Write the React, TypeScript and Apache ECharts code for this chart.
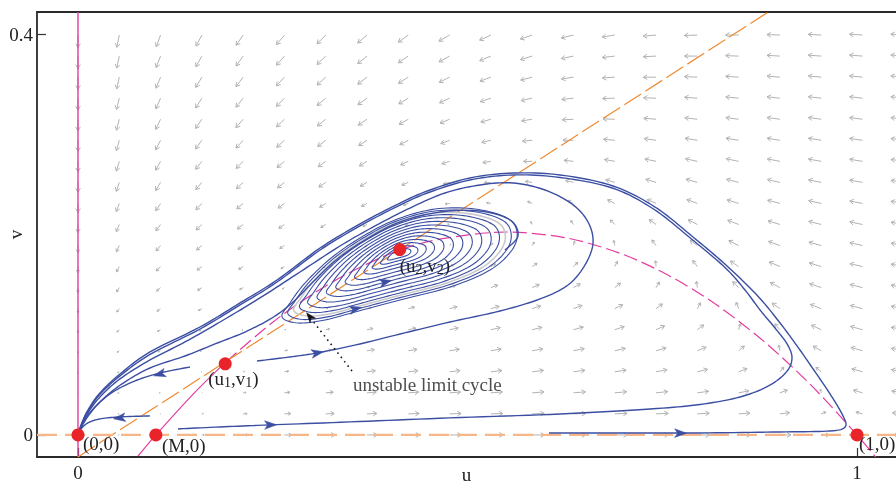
import React, { useEffect, useRef } from "react";
import * as echarts from "echarts";

// ---------- axes ----------
const U_MIN = -0.0526;
const U_MAX = 1.05;
const V_MIN = -0.022;
const V_MAX = 0.422;
const X_TICKS = [0, 1];
const Y_TICKS = [0, 0.4];

// ---------- model read from the nullclines ----------
const ALLEE_M = 0.1; // (M,0)
const V_NULL_SLOPE = 0.505; // slope of the orange nullcline
const V_NULL_U0 = 0.045; // where the orange nullcline meets v = 0
const V_RATE = 0.6;

// vector-field sample grid
const FIELD_U_STEP = 0.053;
const FIELD_V_STEP = 0.021;
const FIELD_COLS = 21;
const FIELD_ROWS = 20;

// ---------- nullclines ----------
const uNullSolidU = [0.077, 0.1, 0.15, 0.19];
const uNullSolidV = [-0.0212, 0, 0.0425, 0.0729];
const uNullDashU = [0.19, 0.25, 0.3, 0.35, 0.413, 0.47, 0.55, 0.63, 0.7, 0.76, 0.82, 0.88, 0.94, 1.0, 1.024];
const uNullDashV = [0.0729, 0.1125, 0.14, 0.1625, 0.1846, 0.1961, 0.2025, 0.1961, 0.18, 0.1584, 0.1296, 0.0936, 0.0504, 0, -0.0222];
const vNullLine = [[0, -0.0219], [0.8858, 0.4219]];

// ---------- equilibria ----------
const eqU = [0, ALLEE_M, 0.189, 0.413, 1];
const eqV = [0, 0, 0.071, 0.185, 0];
const eqLabels = ["(0,0)", "(M,0)", "{m|(u}{s|1}{m|,v}{s|1}{m|)}", "{m|(u}{s|2}{m|,v}{s|2}{m|)}", "(1,0)"];

// ---------- trajectories ----------
const trajFromOneZero = [
  [0.6046, 0.002], [0.6958, 0.002], [0.7985, 0.002], [0.9012, 0.003], [0.9653, 0.004], [0.9846, 0.008],
  [0.982, 0.019], [0.9645, 0.0419], [0.9445, 0.0648], [0.923, 0.0888], [0.9002, 0.1127], [0.8725, 0.1387],
  [0.8331, 0.1686], [0.7895, 0.1975], [0.7407, 0.2274], [0.6868, 0.2484], [0.6187, 0.2594], [0.5584, 0.2613],
  [0.5032, 0.2564], [0.4519, 0.2444], [0.4134, 0.2314], [0.362, 0.2105], [0.3107, 0.1865], [0.2555, 0.1546],
  [0.208, 0.1317], [0.1566, 0.1077], [0.0924, 0.0828], [0.0539, 0.0608], [0.0282, 0.0419], [0.0128, 0.0249],
  [0.0039, 0.01], [0, 0],
];
const trajBottomTurn = [
  [0.1284, 0.006], [0.1823, 0.008], [0.2465, 0.01], [0.3492, 0.013], [0.4775, 0.017], [0.6187, 0.0209],
  [0.7343, 0.0259], [0.7985, 0.0304], [0.8498, 0.0379], [0.8863, 0.0489], [0.9094, 0.0629], [0.9165, 0.0768],
  [0.9102, 0.0908], [0.8947, 0.1067], [0.8755, 0.1247], [0.8562, 0.1446], [0.8311, 0.1666], [0.7875, 0.1955],
  [0.7387, 0.2254], [0.6858, 0.2464], [0.6187, 0.2569], [0.5584, 0.2594], [0.5032, 0.2544], [0.4519, 0.2424],
  [0.4134, 0.2294], [0.362, 0.2085], [0.3107, 0.1845], [0.2555, 0.1526], [0.208, 0.1297], [0.1566, 0.1057],
  [0.0924, 0.0803], [0.0539, 0.0589], [0.0282, 0.0405], [0.0128, 0.0235], [0.0039, 0.0093], [0, 0],
];
const trajSaddleRight = [
  [0.2298, 0.0738], [0.2721, 0.0778], [0.3068, 0.0818], [0.362, 0.0908], [0.4134, 0.1007], [0.4775, 0.1127],
  [0.5417, 0.1237], [0.5931, 0.1357], [0.629, 0.1496], [0.6508, 0.1696], [0.6611, 0.1915], [0.6547, 0.2125],
  [0.6341, 0.2304], [0.5995, 0.2444], [0.5584, 0.2514], [0.516, 0.2494], [0.4711, 0.2414], [0.4262, 0.2264],
  [0.3813, 0.2085], [0.3363, 0.1885], [0.285, 0.1626], [0.2336, 0.1367], [0.1823, 0.1127], [0.1374, 0.0928],
  [0.0924, 0.0748], [0.0539, 0.0559], [0.0282, 0.0379], [0.0128, 0.0219], [0.0039, 0.008], [0, 0],
];
const trajSpiralExit = [
  [0.5481, 0.1845], [0.5648, 0.1985], [0.5546, 0.2145], [0.516, 0.2234], [0.4647, 0.2224], [0.4134, 0.2125],
  [0.3684, 0.1945], [0.3299, 0.1736], [0.2978, 0.1496], [0.2747, 0.1317], [0.249, 0.1167], [0.2144, 0.1027],
  [0.1759, 0.0908], [0.1374, 0.0788], [0.0924, 0.0668], [0.0565, 0.0509], [0.0308, 0.0349], [0.0141, 0.02],
  [0.0039, 0.007], [0, 0],
];
const trajSaddleLeft = [
  [0.1438, 0.0678], [0.1053, 0.0618], [0.0732, 0.0539], [0.0449, 0.0429], [0.0244, 0.0299], [0.0103, 0.017],
  [0.0026, 0.006], [0, 0],
];
const trajBottomLeft = [
  [0.0924, 0.019], [0.0539, 0.018], [0.0282, 0.016], [0.0128, 0.012], [0.0039, 0.006], [0, 0],
];
const trajectories = [trajFromOneZero, trajBottomTurn, trajSaddleRight, trajSpiralExit, trajSaddleLeft, trajBottomLeft];

// spiral loops around (u2,v2): outline of the outermost loop, and loop sizes
const loopShapeU = [0.2619, 0.2824, 0.3171, 0.3556, 0.4134, 0.4775, 0.5289, 0.5571, 0.5635, 0.5507, 0.5096, 0.4583, 0.4069, 0.362, 0.3235, 0.2914, 0.2721];
const loopShapeV = [0.1177, 0.1117, 0.1147, 0.1227, 0.1347, 0.1476, 0.1646, 0.1845, 0.2025, 0.2165, 0.2254, 0.2254, 0.2145, 0.1965, 0.1756, 0.1516, 0.1317];
const loopCenter = [0.4121, 0.1815];
const spiralLoopScales = [1.0, 0.95, 0.85, 0.78, 0.7, 0.62, 0.54, 0.46, 0.38, 0.3, 0.23, 0.16, 0.1];
const limitCycleScale = [0.9];

// direction arrows on trajectories: [u, v, uAhead, vAhead]
const flowArrows = [
  [0.1053, 0.0608, 0.0924, 0.0579],
  [0.0539, 0.017, 0.0347, 0.015],
  [0.2465, 0.01, 0.2721, 0.0105],
  [0.7728, 0.0018, 0.7985, 0.0018],
  [0.3068, 0.0818, 0.3363, 0.0858],
  [0.3556, 0.1257, 0.3813, 0.1302],
  [0.3941, 0.1526, 0.4134, 0.1561],
];
// annotation pointer
const pointerLine = [[0.3517, 0.0638], [0.3004, 0.1147]];
const pointerHead = [[0.2978, 0.1177, 0.2927, 0.1227]];

const FONT = "'Liberation Serif', 'DejaVu Serif', serif";
const BLUE = "#3b4ea2";
const MAGENTA = "#e23c9e";
const ORANGE = "#f08a30";

function field(u: number, v: number): [number, number] {
  const f = u * (1 - u) * (u - ALLEE_M) - u * v;
  const g = V_RATE * v * (V_NULL_SLOPE * (u - V_NULL_U0) - v);
  return [f, g];
}

// Catmull-Rom through pixel points, sampled to a polyline
function splinePoints(pts: number[][], closed: boolean): number[][] {
  const n = pts.length;
  const out: number[][] = [];
  const get = (i: number) => {
    if (closed) return pts[((i % n) + n) % n];
    return pts[Math.max(0, Math.min(n - 1, i))];
  };
  const segs = closed ? n : n - 1;
  for (let i = 0; i < segs; i++) {
    const p0 = get(i - 1);
    const p1 = get(i);
    const p2 = get(i + 1);
    const p3 = get(i + 2);
    for (let t = 0; t < 10; t++) {
      const s = t / 10;
      const s2 = s * s;
      const s3 = s2 * s;
      const x = 0.5 * (2 * p1[0] + (-p0[0] + p2[0]) * s + (2 * p0[0] - 5 * p1[0] + 4 * p2[0] - p3[0]) * s2 + (-p0[0] + 3 * p1[0] - 3 * p2[0] + p3[0]) * s3);
      const y = 0.5 * (2 * p1[1] + (-p0[1] + p2[1]) * s + (2 * p0[1] - 5 * p1[1] + 4 * p2[1] - p3[1]) * s2 + (-p0[1] + 3 * p1[1] - 3 * p2[1] + p3[1]) * s3);
      out.push([x, y]);
    }
  }
  out.push(closed ? out[0] : pts[n - 1]);
  return out;
}

function headPolygon(p: number[], q: number[], len: number, half: number) {
  let dx = q[0] - p[0];
  let dy = q[1] - p[1];
  const m = Math.hypot(dx, dy) || 1;
  dx /= m;
  dy /= m;
  const nx = -dy;
  const ny = dx;
  const tip = [p[0] + dx * len * 0.55, p[1] + dy * len * 0.55];
  const b1 = [p[0] - dx * len * 0.45 + nx * half, p[1] - dy * len * 0.45 + ny * half];
  const notch = [p[0] - dx * len * 0.2, p[1] - dy * len * 0.2];
  const b2 = [p[0] - dx * len * 0.45 - nx * half, p[1] - dy * len * 0.45 - ny * half];
  return [tip, b1, notch, b2];
}

export default function App() {
  const ref = useRef<HTMLDivElement>(null);

  useEffect(() => {
    if (!ref.current) return;
    const chart = echarts.init(ref.current, undefined, { renderer: "svg" });

    const fieldData: number[][] = [];
    for (let i = 0; i < FIELD_COLS; i++) {
      for (let j = 0; j < FIELD_ROWS; j++) {
        fieldData.push([i * FIELD_U_STEP, j * FIELD_V_STEP]);
      }
    }

    const zip = (a: number[], b: number[]) => a.map((x, i) => [x, b[i]]);

    const lineSeries = (data: number[][], color: string, width: number, z: number, type: any = "solid", smooth: number = 0.3) => ({
      type: "line",
      data,
      showSymbol: false,
      symbol: "none",
      smooth,
      silent: true,
      z,
      lineStyle: { color, width, type },
    });

    const loopRender = (color: string, width: number) => (params: any, api: any) => {
      const k = api.value(0);
      const pts = loopShapeU.map((u, i) => {
        const uu = loopCenter[0] + (u - loopCenter[0]) * k;
        const vv = loopCenter[1] + (loopShapeV[i] - loopCenter[1]) * k;
        return api.coord([uu, vv]);
      });
      return {
        type: "polyline",
        shape: { points: splinePoints(pts, true) },
        style: { fill: "none", stroke: color, lineWidth: width },
      };
    };

    const headRender = (color: string, len: number, half: number) => (params: any, api: any) => {
      const p = api.coord([api.value(0), api.value(1)]);
      const q = api.coord([api.value(2), api.value(3)]);
      return {
        type: "polygon",
        shape: { points: headPolygon(p, q, len, half) },
        style: { fill: color, stroke: color, lineWidth: 0.5 },
      };
    };

    const labelBase = {
      show: true,
      align: "left",
      verticalAlign: "middle",
      fontFamily: FONT,
      fontSize: 19,
      color: "#222",
      rich: {
        m: { fontFamily: FONT, fontSize: 19, lineHeight: 22, verticalAlign: "middle", color: "#222" },
        s: { fontFamily: FONT, fontSize: 14, lineHeight: 12, verticalAlign: "bottom", color: "#222" },
      },
    };
    const labelPos = [
      [11.5, 15.5],
      [12.5, 17],
      [-10.5, 21],
      [6.5, 22.5],
      [8.5, 15],
    ];

    const axisName = { fontFamily: FONT, fontSize: 19, color: "#222" };

    const option: any = {
      animation: false,
      grid: { left: 37, right: 0, top: 12, bottom: 27, containLabel: false, outerBoundsMode: "none" },
      xAxis: [
        {
          type: "value",
          min: U_MIN,
          max: U_MAX,
          name: "u",
          nameLocation: "middle",
          nameGap: 8,
          nameMoveOverlap: false,
          nameTextStyle: { ...axisName, verticalAlign: "top" },
          axisLine: { show: true, onZero: false, lineStyle: { color: "#2a2a2a", width: 1.8 } },
          axisTick: { show: true, inside: true, length: 9, customValues: X_TICKS, lineStyle: { color: "#333", width: 1.2 } },
          axisLabel: { customValues: X_TICKS, fontFamily: FONT, fontSize: 19, color: "#222", margin: 6, formatter: (v: number) => String(v) },
          splitLine: { show: false },
        },
        {
          type: "value",
          position: "top",
          min: U_MIN,
          max: U_MAX,
          axisLine: { show: true, onZero: false, lineStyle: { color: "#2a2a2a", width: 1.8 } },
          axisTick: { show: false },
          axisLabel: { show: false },
          splitLine: { show: false },
        },
      ],
      yAxis: {
        type: "value",
        min: V_MIN,
        max: V_MAX,
        name: "v",
        nameLocation: "middle",
        nameRotate: 90,
        nameGap: 12,
        nameMoveOverlap: false,
        nameTextStyle: axisName,
        axisLine: { show: true, onZero: false, lineStyle: { color: "#2a2a2a", width: 1.8 } },
        axisTick: { show: true, inside: true, length: 9, customValues: Y_TICKS, lineStyle: { color: "#333", width: 1.2 } },
        axisLabel: { customValues: Y_TICKS, fontFamily: FONT, fontSize: 19, color: "#222", margin: 4, formatter: (v: number) => String(v) },
        splitLine: { show: false },
      },
      series: [
        {
          type: "custom",
          silent: true,
          z: 1,
          data: fieldData,
          renderItem: (params: any, api: any) => {
            const u = api.value(0);
            const v = api.value(1);
            const [f, g] = field(u, v);
            const sz = api.size([1, 1]);
            const dx = f * sz[0];
            const dy = -g * sz[1];
            const m = Math.hypot(dx, dy);
            if (m < 1e-9) return null;
            const L = 13 * (1 - Math.exp(-m / 30));
            const ux = dx / m;
            const uy = dy / m;
            const p = api.coord([u, v]);
            const e = [p[0] + ux * L, p[1] + uy * L];
            const h = Math.min(4.5, 0.5 * L);
            const a = 0.55;
            const c = Math.cos(a);
            const s = Math.sin(a);
            const bx = -ux;
            const by = -uy;
            const h1 = [e[0] + h * (bx * c - by * s), e[1] + h * (bx * s + by * c)];
            const h2 = [e[0] + h * (bx * c + by * s), e[1] + h * (-bx * s + by * c)];
            return {
              type: "group",
              children: [
                { type: "line", shape: { x1: p[0], y1: p[1], x2: e[0], y2: e[1] }, style: { stroke: "#b2b2b2", lineWidth: 1 } },
                { type: "polyline", shape: { points: [h1, e, h2] }, style: { stroke: "#b2b2b2", lineWidth: 1, fill: "none" } },
              ],
            };
          },
        },
        // nullclines
        lineSeries([[0, V_MIN], [0, V_MAX]], MAGENTA, 1.4, 2, "solid", 0),
        lineSeries(zip(uNullSolidU, uNullSolidV), MAGENTA, 1.2, 2, "solid", 0.3),
        lineSeries(zip(uNullDashU, uNullDashV), MAGENTA, 1.2, 2, [14, 5], 0.3),
        lineSeries(vNullLine, ORANGE, 1.2, 2, [20, 5], 0),
        lineSeries([[U_MIN, 0], [U_MAX, 0]], "#f7b688", 2.2, 2, [20, 8], 0),
        // limit cycle
        {
          type: "custom",
          silent: true,
          z: 3,
          data: limitCycleScale.map((k) => [k]),
          renderItem: loopRender("#c9c9c9", 1.6),
        },
        {
          type: "custom",
          silent: true,
          z: 4,
          data: spiralLoopScales.map((k) => [k]),
          renderItem: loopRender(BLUE, 1.1),
        },
        // trajectories
        {
          type: "custom",
          silent: true,
          z: 4,
          data: trajectories.map((_, i) => [i]),
          renderItem: (params: any, api: any) => {
            const tr = trajectories[api.value(0)];
            const pts = tr.map((p) => api.coord(p));
            return {
              type: "polyline",
              shape: { points: splinePoints(pts, false) },
              style: { fill: "none", stroke: BLUE, lineWidth: 1.4 },
            };
          },
        },
        {
          type: "custom",
          silent: true,
          z: 5,
          data: flowArrows,
          renderItem: headRender(BLUE, 12, 4.3),
        },
        // pointer to the limit cycle
        lineSeries(pointerLine, "#111", 1.6, 5, [1.5, 4], 0),
        {
          type: "custom",
          silent: true,
          z: 5,
          data: pointerHead,
          renderItem: headRender("#111", 10, 3.6),
        },
        {
          type: "scatter",
          silent: true,
          z: 6,
          symbolSize: 1,
          itemStyle: { color: "rgba(0,0,0,0)" },
          data: [
            {
              value: pointerLine[0],
              label: { ...labelBase, formatter: "unstable limit cycle", position: [1.5, 13.5] },
            },
          ],
        },
        // equilibria
        {
          type: "scatter",
          silent: true,
          z: 7,
          symbolSize: 13,
          itemStyle: { color: "#e8242a", opacity: 1 },
          data: eqU.map((u, i) => ({
            value: [u, eqV[i]],
            label: { ...labelBase, formatter: eqLabels[i], position: labelPos[i] },
          })),
        },
      ],
    };

    chart.setOption(option);
    return () => chart.dispose();
  }, []);

  return <div ref={ref} style={{ position: "fixed", left: 0, top: 0, width: 896, height: 484 }} />;
}
